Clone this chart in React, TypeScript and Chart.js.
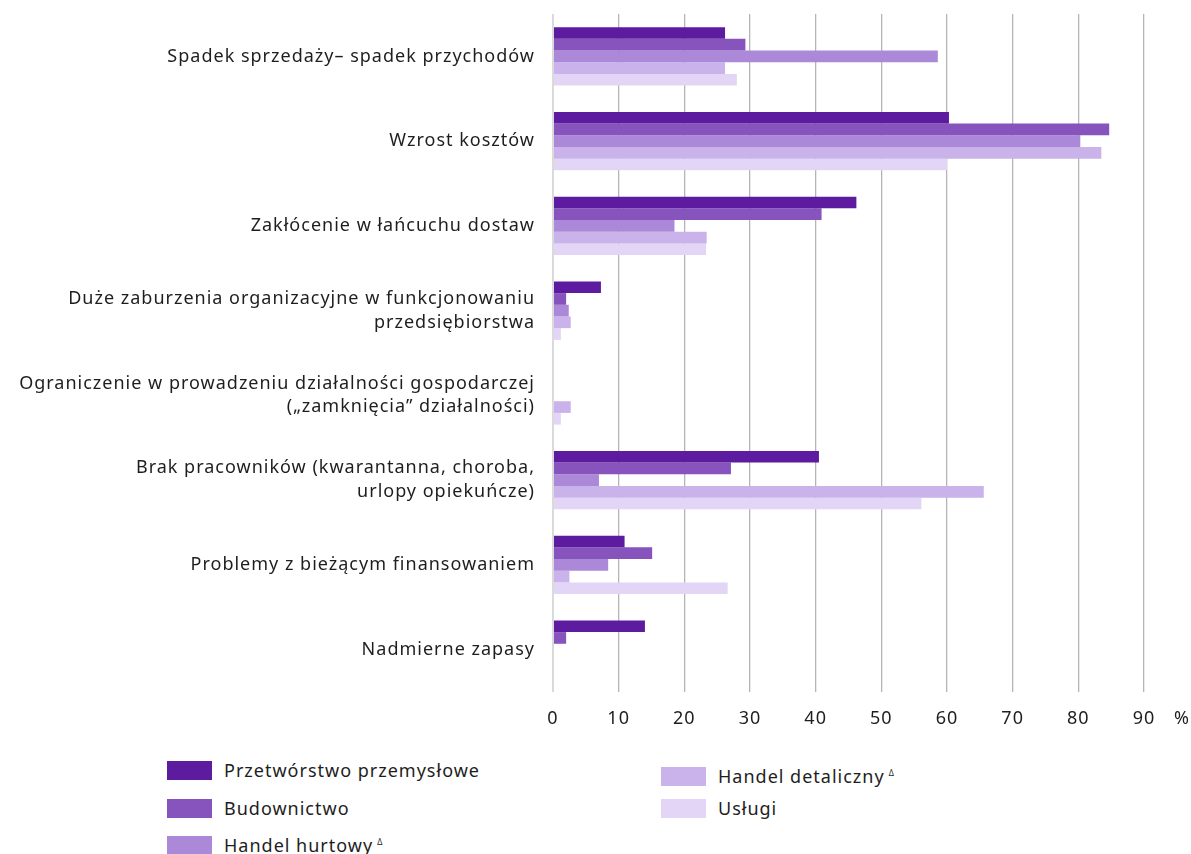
import React, { useEffect, useRef } from 'react';
import { Chart, registerables } from 'chart.js';
Chart.register(...registerables);

const categories: (string | string[])[] = [
  'Spadek sprzedaży– spadek przychodów',
  'Wzrost kosztów',
  'Zakłócenie w łańcuchu dostaw',
  ['Duże zaburzenia organizacyjne w funkcjonowaniu', 'przedsiębiorstwa'],
  ['Ograniczenie w prowadzeniu działalności gospodarczej', '(„zamknięcia” działalności)'],
  ['Brak pracowników (kwarantanna, choroba,', 'urlopy opiekuńcze)'],
  'Problemy z bieżącym finansowaniem',
  'Nadmierne zapasy',
];

const seriesNames = [
  'Przetwórstwo przemysłowe',
  'Budownictwo',
  'Handel hurtowy',
  'Handel detaliczny',
  'Usługi',
];
const seriesColors = ['#5d1ba0', '#8654bc', '#ab89d8', '#c9b3ea', '#e2d5f6'];

const przetworstwo = [26.2, 60.3, 46.2, 7.3, 0, 40.5, 10.9, 14.0];
const budownictwo = [29.3, 84.7, 40.9, 2.0, 0, 27.1, 15.1, 2.0];
const handelHurtowy = [58.6, 80.3, 18.5, 2.4, 0, 7.0, 8.4, 0];
const handelDetaliczny = [26.2, 83.5, 23.4, 2.7, 2.7, 65.6, 2.5, 0];
const uslugi = [28.0, 60.0, 23.3, 1.2, 1.2, 56.1, 26.6, 0];

const xMin = 0;
const xMax = 90;
const xStep = 10;
const unitLabel = '%';

const FONT = '"Noto Sans", sans-serif';
const TEXT = '#1e1e1e';
const SPACING = '1px';

const spacingPlugin = {
  id: 'letterSpacing',
  beforeUpdate(chart: any) {
    (chart.ctx as any).letterSpacing = SPACING;
  },
  beforeDraw(chart: any) {
    (chart.ctx as any).letterSpacing = SPACING;
  },
};

const unitPlugin = {
  id: 'unitLabel',
  afterDraw(chart: any) {
    const ctx = chart.ctx;
    const xs = chart.scales.x;
    ctx.save();
    ctx.font = `18px ${FONT}`;
    ctx.fillStyle = TEXT;
    ctx.textAlign = 'left';
    ctx.textBaseline = 'middle';
    ctx.fillText(unitLabel, xs.right + 30, chart.chartArea.bottom + 27);
    ctx.restore();
  },
};

function LegendItem({ color, label, sup, x, y }: any) {
  return (
    <div style={{ position: 'absolute', left: x, top: y - 12, height: 24, display: 'flex', alignItems: 'center', whiteSpace: 'nowrap' }}>
      <div style={{ width: 45, height: 19, background: color, marginRight: 12 }} />
      <span style={{ fontFamily: FONT, fontSize: 18, letterSpacing: SPACING, color: TEXT }}>
        {label}
        {sup ? <sup style={{ fontSize: 8, marginLeft: 4, verticalAlign: 'super' }}>Δ</sup> : null}
      </span>
    </div>
  );
}

export default function App() {
  const ref = useRef<HTMLCanvasElement | null>(null);
  useEffect(() => {
    if (!ref.current) return;
    const all = [przetworstwo, budownictwo, handelHurtowy, handelDetaliczny, uslugi];
    const chart = new Chart(ref.current, {
      type: 'bar',
      data: {
        labels: categories as any,
        datasets: all.map((d, i) => ({
          label: seriesNames[i],
          data: d,
          backgroundColor: seriesColors[i],
          borderWidth: 0,
          categoryPercentage: 0.69,
          barPercentage: 1,
        })),
      },
      options: {
        indexAxis: 'y',
        animation: false,
        responsive: false,
        maintainAspectRatio: false,
        layout: { padding: { left: 0, right: 47, top: 14, bottom: 0 } },
        plugins: { legend: { display: false }, tooltip: { enabled: false } },
        scales: {
          y: {
            type: 'category',
            grid: { display: false, drawTicks: false },
            border: { display: false },
            ticks: {
              font: { family: FONT, size: 18, lineHeight: 1.33 },
              color: TEXT,
              padding: 18,
              autoSkip: false,
            },
            afterFit(scale: any) {
              scale.width = 553;
              scale.paddingTop = 0;
              scale.paddingBottom = 0;
            },
          },
          x: {
            min: xMin,
            max: xMax,
            grid: {
              drawTicks: false,
              color: (c: any) => (c.index === 0 ? '#dadada' : '#b5b5b5'),
              lineWidth: (c: any) => (c.index === 0 ? 2 : 1.3),
            },
            border: { display: false },
            ticks: {
              stepSize: xStep,
              font: { family: FONT, size: 18 },
              color: TEXT,
              padding: 16,
            },
            afterFit(scale: any) {
              scale.height = 48;
            },
          },
        },
      },
      plugins: [spacingPlugin, unitPlugin],
    });
    return () => chart.destroy();
  }, []);

  return (
    <div style={{ position: 'absolute', left: 0, top: 0, width: 1191, height: 854, background: '#fff', overflow: 'hidden' }}>
      <canvas ref={ref} width={1191} height={740} style={{ display: 'block', width: 1191, height: 740 }} />
      <LegendItem color={seriesColors[0]} label={seriesNames[0]} x={167} y={770} />
      <LegendItem color={seriesColors[1]} label={seriesNames[1]} x={167} y={808} />
      <LegendItem color={seriesColors[2]} label={seriesNames[2]} sup x={167} y={845} />
      <LegendItem color={seriesColors[3]} label={seriesNames[3]} sup x={661} y={776} />
      <LegendItem color={seriesColors[4]} label={seriesNames[4]} x={661} y={808} />
    </div>
  );
}
